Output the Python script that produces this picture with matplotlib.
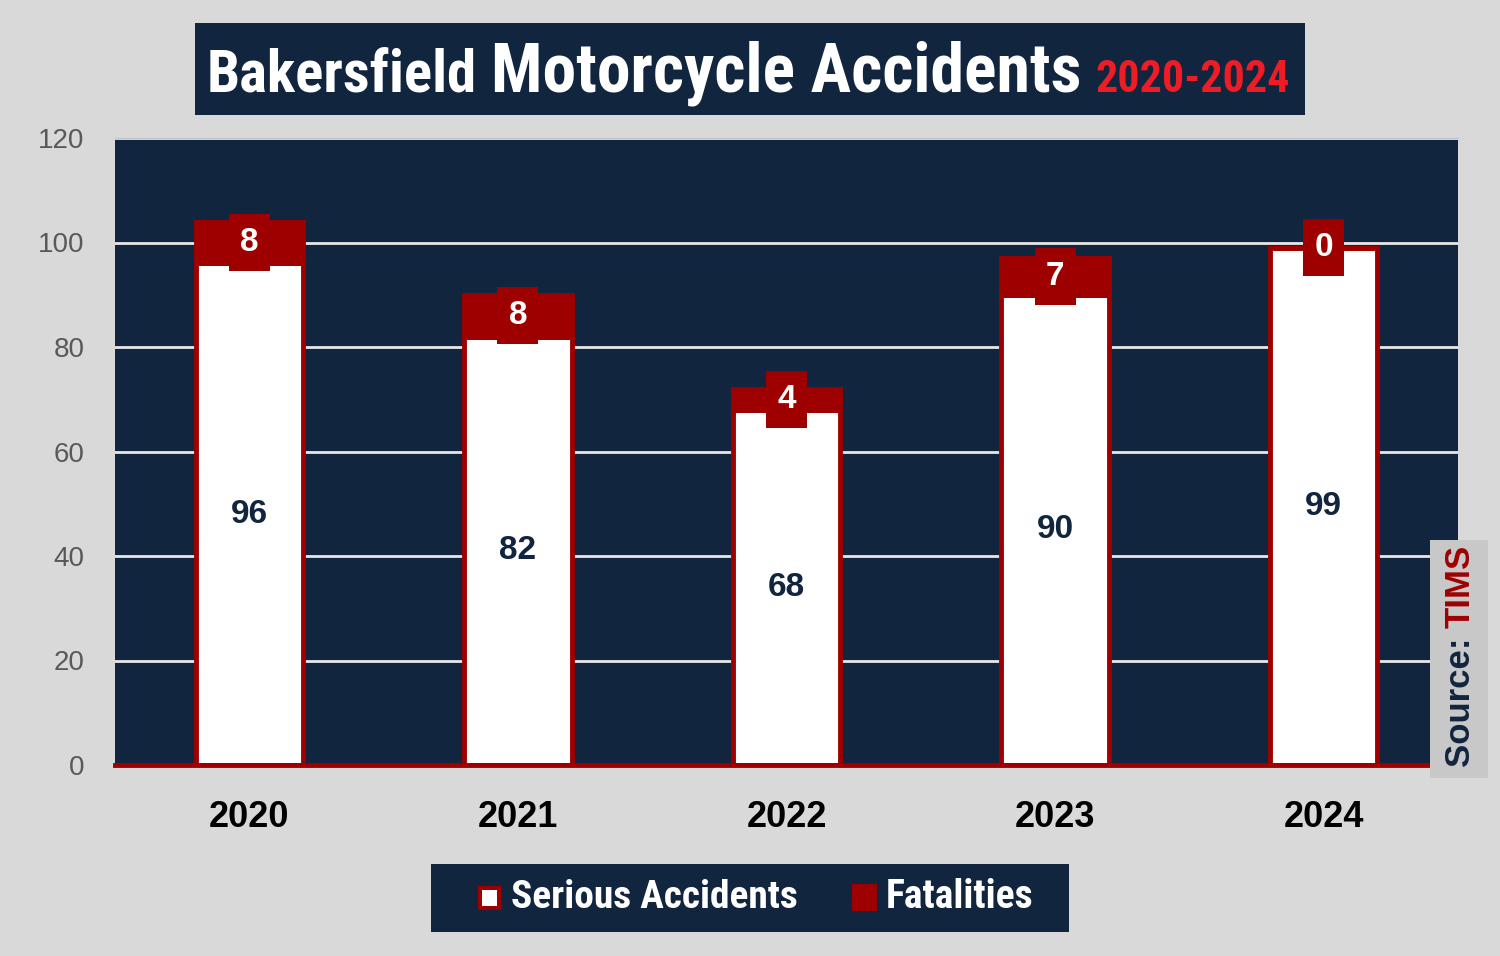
import matplotlib
matplotlib.use('Agg')
import matplotlib.pyplot as plt
from matplotlib.patches import Rectangle
from matplotlib import font_manager as fm

years = ['2020', '2021', '2022', '2023', '2024']
serious = [96, 82, 68, 90, 99]
fatalities = [8, 8, 4, 7, 0]
yticks = [0, 20, 40, 60, 80, 100, 120]

NAVY = '#11253f'
RED = '#9e0000'
BG = '#d9d9d9'
BRIGHT = '#ee1c25'

names = {f.name for f in fm.fontManager.ttflist}
cond = next((n for n in ['Liberation Sans Narrow', 'Roboto Condensed', 'Open Sans Condensed', 'Roboto']
             if n in names), 'DejaVu Sans')
sans = 'Liberation Sans' if 'Liberation Sans' in names else 'DejaVu Sans'

W, H = 1500, 956
fig = plt.figure(figsize=(15, 9.56), dpi=100, facecolor=BG)


def fx(px):
    return px / W


def fy(py):
    return 1 - py / H


ax = fig.add_axes([fx(115), fy(765), (1458 - 115) / W, (765 - 138) / H])
ax.set_facecolor(NAVY)
x = list(range(len(years)))
ax.bar(x, serious, width=0.4, color='white', edgecolor=RED, linewidth=3.5, zorder=3)
ax.bar(x, fatalities, bottom=serious, width=0.4, color=RED, edgecolor=RED, linewidth=3.5, zorder=3)

ax.set_xlim(-0.5, len(years) - 0.5)
ax.set_ylim(0, 120)
ax.set_yticks(yticks)
ax.set_yticklabels([str(v) for v in yticks], family=sans)
ax.set_xticks(x)
ax.set_xticklabels(years, family=sans, fontweight='bold')
ax.grid(axis='y', color='#e8e8e8', linewidth=2, zorder=1)
ax.set_axisbelow(True)
ax.tick_params(axis='y', length=0, labelsize=20, labelcolor='#595959', pad=22)
ax.tick_params(axis='x', length=0, labelsize=26, labelcolor='black', pad=25)
for s in ['left', 'right']:
    ax.spines[s].set_visible(False)
ax.spines['top'].set_color('#bfc5cc')
ax.spines['top'].set_linewidth(1)
ax.spines['bottom'].set_color(RED)
ax.spines['bottom'].set_linewidth(3.5)
ax.spines['bottom'].set_zorder(4)

for i, (s, f) in enumerate(zip(serious, fatalities)):
    ax.text(i, s / 2, str(s), ha='center', va='center', color=NAVY, fontsize=24,
            fontweight='bold', family=sans, zorder=6)
    cy = s + f / 2
    ax.add_patch(Rectangle((i - 0.0765, cy - 5.45), 0.153, 10.9, facecolor=RED,
                           edgecolor='none', zorder=5))
    ax.text(i, cy, str(f), ha='center', va='center', color='white', fontsize=24,
            fontweight='bold', family=sans, zorder=6)

# Title box
fig.patches.append(Rectangle((fx(195), fy(115)), 1110 / W, 92 / H, transform=fig.transFigure,
                             facecolor=NAVY, edgecolor='none', zorder=1))
renderer = fig.canvas.get_renderer()


def row(parts, baseline_px, left_px, target_w, gap_px):
    texts = []
    for s, size, color in parts:
        t = fig.text(0, fy(baseline_px), s, fontsize=size, color=color, family=cond,
                     fontweight='bold', va='baseline', ha='left', zorder=5)
        texts.append(t)
    widths = [t.get_window_extent(renderer).width for t in texts]
    total = sum(widths) + gap_px * (len(parts) - 1)
    k = target_w / total
    for t, (s, size, color) in zip(texts, parts):
        t.set_fontsize(size * k)
    widths = [t.get_window_extent(renderer).width for t in texts]
    xpos = left_px
    for t, w in zip(texts, widths):
        t.set_x(fx(xpos))
        xpos += w + gap_px
    return texts


row([('Bakersfield', 40, 'white'), ('Motorcycle Accidents', 46, 'white'), ('2020-2024', 30, BRIGHT)],
    92, 207, 1086, 14)

# Legend
fig.patches.append(Rectangle((fx(431), fy(932)), (1069 - 431) / W, 68 / H, transform=fig.transFigure,
                             facecolor=NAVY, edgecolor='none', zorder=1))
fig.patches.append(Rectangle((fx(478), fy(910)), 23 / W, 24 / H, transform=fig.transFigure,
                             facecolor=RED, edgecolor='none', zorder=2))
fig.patches.append(Rectangle((fx(482), fy(906)), 15 / W, 16 / H, transform=fig.transFigure,
                             facecolor='white', edgecolor='none', zorder=3))
fig.patches.append(Rectangle((fx(852), fy(911)), 25 / W, 27 / H, transform=fig.transFigure,
                             facecolor=RED, edgecolor='none', zorder=2))
row([('Serious Accidents', 26, 'white')], 908, 511, 287, 0)
row([('Fatalities', 26, 'white')], 908, 886, 148, 0)

# Source box
fig.patches.append(Rectangle((fx(1430), fy(778)), 58 / W, (778 - 540) / H, transform=fig.transFigure,
                             facecolor='#c8c8c8', edgecolor='none', zorder=2))
t1 = fig.text(fx(1460), fy(767), 'Source: ', rotation=90, ha='center', va='bottom', color=NAVY,
              fontsize=25, fontweight='bold', family=sans, zorder=5)
h1 = t1.get_window_extent(renderer).height
t2 = fig.text(fx(1460), fy(767 - h1), 'TIMS', rotation=90, ha='center', va='bottom', color=RED,
              fontsize=25, fontweight='bold', family=sans, zorder=5)

fig.savefig('out.png', dpi=100, facecolor=BG)
